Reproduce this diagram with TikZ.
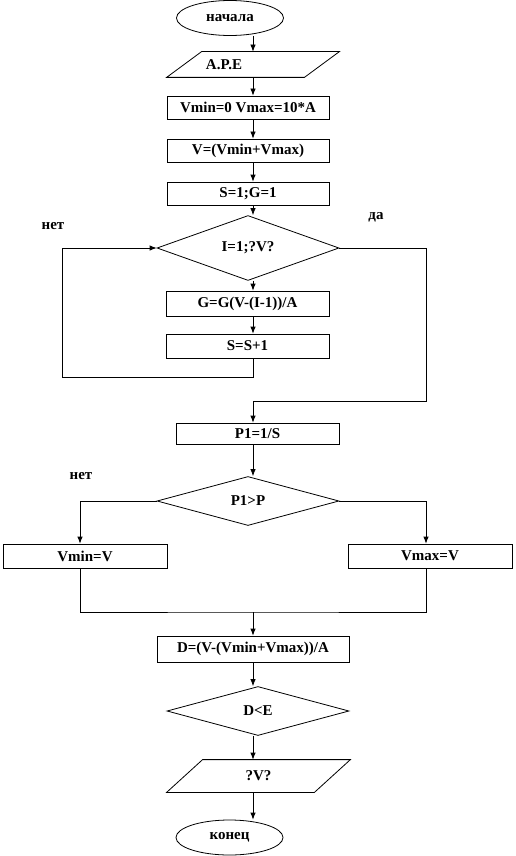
\documentclass[tikz,border=0pt]{standalone}
\usepackage{fontspec}
\setmainfont{Liberation Serif}
\usetikzlibrary{shapes.geometric,arrows.meta}

\tikzset{
  every node/.style={font=\fontsize{15}{18}\selectfont\bfseries},
  procbox/.style={draw, rectangle, minimum width=162pt, minimum height=23pt, inner sep=0pt},
  decision/.style={draw, diamond, minimum width=182pt, minimum height=49pt, inner sep=0pt},
  terminal/.style={draw, ellipse, minimum width=107pt, minimum height=35pt, inner sep=0pt},
  iobox/.style={rectangle, minimum width=172pt, minimum height=25pt, inner sep=0pt},
  lbl/.style={inner sep=0pt}
}

\begin{document}
\begin{tikzpicture}[x=1pt, y=-1pt, line width=0.8pt, >={Latex[length=7pt,width=5.5pt]}]
  \useasboundingbox (0,0) rectangle (515,856);
  \coordinate (col) at (253,0);
  \coordinate (backl) at (62,377);
  \coordinate (yesr) at (426,401);
  \coordinate (join) at (253,612);

  \node (start) [terminal] at (230,18) {начала};
  \node (input) [iobox] at (253,64.5) {A.P.E\rule{58pt}{0pt}};
  \node (init) [procbox] at (248,107.5) {Vmin=0 Vmax=10*A};
  \node (vmid) [procbox] at (248,150.5) {V=(Vmin+Vmax)};
  \node (counters) [procbox] at (248,193.5) {S=1;G=1};
  \node (loop) [decision] at (248,248) {I=1;?V?};
  \node (gstep) [procbox, minimum width=163pt, minimum height=25pt] at (247.5,303.5) {G=G(V-(I-1))/A};
  \node (sstep) [procbox, minimum width=163pt, minimum height=24pt] at (247.5,346) {S=S+1};
  \node (pone) [procbox, minimum width=163pt, minimum height=21pt] at (257.5,433.5) {P1=1/S};
  \node (compare) [decision] at (248,501) {P1>P};
  \node (setmin) [procbox, minimum width=164pt, minimum height=24pt] at (85,556) {Vmin=V};
  \node (setmax) [procbox, minimum width=164pt, minimum height=24pt] at (430,556) {Vmax=V};
  \node (dcalc) [procbox, minimum width=192pt, minimum height=26pt] at (253,649) {D=(V-(Vmin+Vmax))/A};
  \node (check) [decision] at (258,711) {D<E};
  \node (output) [iobox, minimum width=183pt, minimum height=32pt] at (258.5,776) {?V?};
  \node (finish) [terminal] at (229.5,837.5) {конец};

  % parallelograms for input and output
  \draw (input.south west) -- ([xshift=35pt]input.north west) -- (input.north east)
    -- ([xshift=-35pt]input.south east) -- cycle;
  \draw (output.south west) -- ([xshift=36pt]output.north west) -- (output.north east)
    -- ([xshift=-36pt]output.south east) -- cycle;

  \node (no1) [lbl] at (53,226) {нет};
  \node (yes1) [lbl] at (376,217) {да};
  \node (no2) [lbl] at (81,476) {нет};

  \path[->] (start.south -| col) edge (input.north -| col);
  \path[->] (input.south -| col) edge (init.north -| col);
  \path[->] (init.south -| col) edge (vmid.north -| col);
  \path[->] (vmid.south -| col) edge (counters.north -| col);
  \path[->] (counters.south -| col) edge (loop.north -| col);
  \path[->] (loop.south -| col) edge (gstep.north -| col);
  \path[->] (gstep.south -| col) edge (sstep.north -| col);
  \draw[->] (sstep.south -| col) |- (backl) |- (loop.west);
  \draw[->] (loop.east) -| (yesr) -| (pone.north -| col);
  \path[->] (pone.south -| col) edge (compare.north -| col);
  \draw[->] (compare.west) -| ([xshift=-5pt]setmin.north);
  \draw[->] (compare.east) -| ([xshift=-4pt]setmax.north);
  \draw ([xshift=-5pt]setmin.south) |- (join) -| ([xshift=-4pt]setmax.south);
  \path[->] (join) edge (dcalc.north -| join);
  \path[->] (dcalc.south -| col) edge (check.north -| col);
  \path[->] (check.south -| col) edge (output.north -| col);
  \path[->] (output.south -| col) edge (finish.north -| col);
\end{tikzpicture}
\end{document}
